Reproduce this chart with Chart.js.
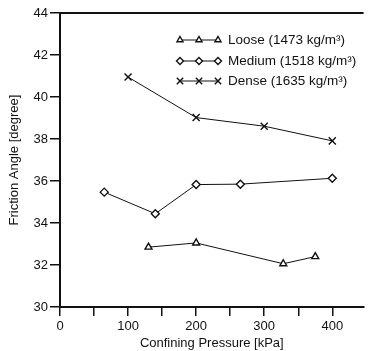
<!DOCTYPE html>
<html>
<head>
<meta charset="utf-8">
<script src="https://cdn.jsdelivr.net/npm/chart.js@4/dist/chart.umd.min.js"></script>
<style>
  body { margin: 0; background: #fff; }
</style>
</head>
<body>
<canvas id="chart" width="370" height="351"></canvas>
<script>
// --- Data ---
const seriesNames = ["Loose (1473 kg/m³)", "Medium (1518 kg/m³)", "Dense (1635 kg/m³)"];
const looseX = [130, 200, 328, 375];
const looseY = [32.85, 33.05, 32.06, 32.4];
const mediumX = [65, 140, 200, 265, 400];
const mediumY = [35.47, 34.44, 35.83, 35.85, 36.13];
const denseX = [100, 200, 300, 400];
const denseY = [40.95, 39.02, 38.61, 37.91];
const xTicks = [0, 50, 100, 150, 200, 250, 300, 350, 400];
const yTicks = [30, 32, 34, 36, 38, 40, 42, 44];

const FONT = "Arial, 'Liberation Sans', sans-serif";
const INK = "#111";

function toPoints(xs, ys) {
  return xs.map((x, i) => ({ x: x, y: ys[i] }));
}

const styles = [
  { pointStyle: "triangle", radius: 4 },
  { pointStyle: "rectRot", radius: 4 },
  { pointStyle: "crossRot", radius: 5 }
];

const allData = [toPoints(looseX, looseY), toPoints(mediumX, mediumY), toPoints(denseX, denseY)];

const datasets = allData.map((pts, i) => ({
  label: seriesNames[i],
  data: pts,
  borderColor: INK,
  borderWidth: 1,
  pointStyle: styles[i].pointStyle,
  pointRadius: styles[i].radius,
  pointBorderWidth: 1.4,
  pointBackgroundColor: "#fff",
  pointBorderColor: INK,
  showLine: true,
  tension: 0
}));

// top frame line + legend with three markers per row
const framePlugin = {
  id: "frame",
  afterDraw(chart) {
    const { ctx, chartArea } = chart;
    ctx.save();
    ctx.strokeStyle = INK;
    ctx.lineWidth = 2;
    ctx.beginPath();
    ctx.moveTo(chartArea.left - 1, chartArea.top);
    ctx.lineTo(chartArea.right, chartArea.top);
    ctx.stroke();

    const rows = [40, 61, 81];
    const marks = [180, 199, 218];
    seriesNames.forEach((name, i) => {
      const y = rows[i];
      ctx.strokeStyle = INK;
      ctx.lineWidth = 1;
      ctx.beginPath();
      ctx.moveTo(marks[0], y);
      ctx.lineTo(marks[2], y);
      ctx.stroke();
      marks.forEach(mx => {
        ctx.fillStyle = "#fff";
        ctx.strokeStyle = INK;
        ctx.lineWidth = 1.4;
        Chart.helpers.drawPoint(ctx, {
          pointStyle: styles[i].pointStyle,
          radius: styles[i].radius - 0.5,
          rotation: 0,
          borderWidth: 1.4
        }, mx, y);
      });
      ctx.fillStyle = INK;
      ctx.font = "13.5px " + FONT;
      ctx.textBaseline = "middle";
      ctx.textAlign = "left";
      ctx.fillText(name, 228, y);
    });
    ctx.restore();
  }
};

new Chart(document.getElementById("chart"), {
  type: "scatter",
  data: { datasets: datasets },
  plugins: [framePlugin],
  options: {
    responsive: false,
    animation: false,
    layout: { padding: { top: 13, right: 0, left: 0, bottom: 0 } },
    plugins: {
      legend: { display: false },
      tooltip: { enabled: false }
    },
    scales: {
      x: {
        type: "linear",
        min: 0,
        max: 446,
        afterBuildTicks(scale) {
          scale.ticks = xTicks.map(v => ({ value: v }));
        },
        afterFit(scale) { scale.height = 44; },
        ticks: {
          autoSkip: false,
          maxRotation: 0,
          padding: 3,
          color: INK,
          font: { family: FONT, size: 13 },
          callback: v => (v % 100 === 0 ? v : "")
        },
        grid: {
          drawOnChartArea: false,
          drawTicks: true,
          tickLength: 9,
          color: INK,
          lineWidth: 1.5
        },
        border: { display: true, color: INK, width: 2 },
        title: {
          display: true,
          text: "Confining Pressure [kPa]",
          color: INK,
          font: { family: FONT, size: 13 },
          padding: { top: 0, bottom: 0 }
        }
      },
      y: {
        type: "linear",
        min: 30,
        max: 44,
        afterBuildTicks(scale) {
          scale.ticks = yTicks.map(v => ({ value: v }));
        },
        afterFit(scale) { scale.width = 60; },
        ticks: {
          padding: 2,
          color: INK,
          font: { family: FONT, size: 13 }
        },
        grid: {
          drawOnChartArea: false,
          drawTicks: true,
          tickLength: 10,
          color: INK,
          lineWidth: 1.5
        },
        border: { display: true, color: INK, width: 2 },
        title: {
          display: true,
          text: "Friction Angle [degree]",
          color: INK,
          font: { family: FONT, size: 13 },
          padding: { top: 7, bottom: 0 }
        }
      }
    }
  }
});
</script>
</body>
</html>
